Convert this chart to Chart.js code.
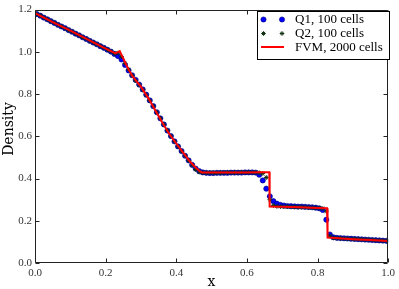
<!DOCTYPE html>
<html><head><meta charset="utf-8">
<script src="https://cdn.jsdelivr.net/npm/chart.js@4/dist/chart.umd.min.js"></script>
<style>html,body{margin:0;padding:0;background:#fff}#wrap{width:399px;height:289px;position:relative}</style>
</head><body><div id="wrap"><canvas id="c" width="399" height="289"></canvas></div>
<script>
// ---- data ----
const cellX = [0.005,0.015,0.025,0.035,0.045,0.055,0.065,0.075,0.085,0.095,
0.105,0.115,0.125,0.135,0.145,0.155,0.165,0.175,0.185,0.195,
0.205,0.215,0.225,0.235,0.245,0.255,0.265,0.275,0.285,0.295,
0.305,0.315,0.325,0.335,0.345,0.355,0.365,0.375,0.385,0.395,
0.405,0.415,0.425,0.435,0.445,0.455,0.465,0.475,0.485,0.495,
0.505,0.515,0.525,0.535,0.545,0.555,0.565,0.575,0.585,0.595,
0.605,0.615,0.625,0.635,0.645,0.655,0.665,0.675,0.685,0.695,
0.705,0.715,0.725,0.735,0.745,0.755,0.765,0.775,0.785,0.795,
0.805,0.815,0.825,0.835,0.845,0.855,0.865,0.875,0.885,0.895,
0.905,0.915,0.925,0.935,0.945,0.955,0.965,0.975,0.985,0.995];
const q1Density = [1.179,1.171,1.162,1.154,1.145,1.137,1.128,1.120,1.112,1.103,
1.095,1.086,1.078,1.069,1.061,1.052,1.044,1.036,1.027,1.019,
1.010,1.001,0.990,0.980,0.964,0.938,0.912,0.889,0.867,0.845,
0.822,0.797,0.770,0.743,0.714,0.685,0.656,0.627,0.601,0.576,
0.552,0.530,0.508,0.486,0.465,0.447,0.435,0.429,0.427,0.426,
0.426,0.427,0.427,0.427,0.427,0.428,0.428,0.428,0.428,0.429,
0.429,0.429,0.428,0.418,0.391,0.352,0.316,0.293,0.281,0.275,
0.272,0.270,0.269,0.268,0.267,0.267,0.266,0.265,0.264,0.262,
0.259,0.251,0.205,0.135,0.122,0.119,0.118,0.117,0.116,0.115,
0.114,0.113,0.112,0.111,0.110,0.109,0.108,0.107,0.106,0.105];
const q2Density = [1.179,1.171,1.162,1.154,1.145,1.137,1.128,1.120,1.112,1.103,
1.095,1.086,1.078,1.069,1.061,1.052,1.044,1.036,1.027,1.019,
1.010,1.002,0.992,0.994,0.978,0.945,0.916,0.888,0.864,0.843,
0.820,0.795,0.769,0.742,0.714,0.685,0.656,0.627,0.601,0.576,
0.552,0.530,0.508,0.486,0.463,0.443,0.431,0.428,0.427,0.427,
0.427,0.427,0.427,0.428,0.428,0.428,0.428,0.428,0.429,0.429,
0.429,0.429,0.429,0.427,0.424,0.405,0.300,0.272,0.268,0.267,
0.267,0.267,0.266,0.266,0.265,0.265,0.264,0.263,0.262,0.261,
0.260,0.258,0.245,0.128,0.119,0.118,0.117,0.116,0.115,0.114,
0.114,0.113,0.112,0.111,0.110,0.109,0.108,0.107,0.106,0.105];
const fvmX = [0.0,0.05,0.10,0.15,0.20,0.215,0.228,0.240,0.248,0.258,
0.267,0.276,0.290,0.300,0.323,0.341,0.360,0.380,0.400,0.420,
0.440,0.455,0.465,0.472,0.50,0.55,0.60,0.64,0.6635,0.6645,
0.700,0.750,0.800,0.827,0.8285,0.840,0.900,0.950,1.0];
const fvmDensity = [1.183,1.141,1.100,1.058,1.015,1.003,0.993,1.003,0.975,0.940,
0.911,0.885,0.855,0.835,0.775,0.722,0.667,0.612,0.566,0.522,
0.478,0.452,0.437,0.429,0.428,0.428,0.429,0.430,0.430,0.267,
0.266,0.264,0.261,0.259,0.120,0.119,0.113,0.109,0.104];
const xTickValues = [0.0,0.2,0.4,0.6,0.8,1.0];
const xTickLabels = ['0.0','0.2','0.4','0.6','0.8','1.0'];
const yTickValues = [0.0,0.2,0.4,0.6,0.8,1.0,1.2];
const yTickLabels = ['0.0','0.2','0.4','0.6','0.8','1.0','1.2'];
const seriesLabels = ['Q1, 100 cells','Q2, 100 cells','FVM, 2000 cells'];
const xTitle = 'x';
const yTitle = 'Density';

const pts = (xs, ys) => xs.map((x, i) => ({x: x, y: ys[i]}));
const SERIF = '"Liberation Serif", "DejaVu Serif", serif';

function labelFor(values, labels, v) {
  for (let i = 0; i < values.length; i++) if (Math.abs(values[i] - v) < 1e-6) return labels[i];
  return '';
}

const framePlugin = {
  id: 'frame',
  afterDatasetsDraw(chart) {
    const {ctx, chartArea: a, scales} = chart;
    ctx.save();
    ctx.strokeStyle = '#222';
    ctx.lineWidth = 1;
    ctx.beginPath();
    const L = Math.round(a.left) + 0.5, R = Math.round(a.right) - 0.5;
    const T = Math.round(a.top) + 0.5, B = Math.round(a.bottom) - 0.5;
    ctx.rect(L, T, R - L, B - T);
    ctx.stroke();
    ctx.beginPath();
    const tl = 4;
    xTickValues.forEach(v => {
      const px = Math.round(scales.x.getPixelForValue(v)) + 0.5;
      ctx.moveTo(px, B); ctx.lineTo(px, B - tl);
      ctx.moveTo(px, T); ctx.lineTo(px, T + tl);
    });
    yTickValues.forEach(v => {
      const py = Math.round(scales.y.getPixelForValue(v)) + 0.5;
      ctx.moveTo(L, py); ctx.lineTo(L + tl, py);
      ctx.moveTo(R, py); ctx.lineTo(R - tl, py);
    });
    ctx.stroke();
    ctx.restore();
  },
  afterDraw(chart) {
    const {ctx, chartArea: a, data} = chart;
    ctx.save();
    // axis titles
    ctx.fillStyle = '#000';
    ctx.font = '14px "DejaVu Serif", serif';
    ctx.textAlign = 'center';
    ctx.textBaseline = 'alphabetic';
    ctx.fillText(xTitle, (a.left + a.right) / 2, 286);
    ctx.translate(13, 129);
    ctx.rotate(-Math.PI / 2);
    ctx.textBaseline = 'alphabetic';
    ctx.fillText(yTitle, 0, 0);
    ctx.restore();

    // legend
    ctx.save();
    const bx = 257.5, by = 11.5, bw = 132, bh = 48;
    ctx.fillStyle = '#fff';
    ctx.fillRect(bx, by, bw, bh);
    ctx.strokeStyle = '#000';
    ctx.lineWidth = 1;
    ctx.strokeRect(bx, by, bw, bh);
    const rows = [19.5, 33.5, 47];
    const m1 = 263.5, m2 = 282;
    // Q1 markers
    const d0 = data.datasets[2];
    [m1, m2].forEach(mx => {
      ctx.beginPath();
      ctx.arc(mx, rows[0], d0.pointRadius, 0, Math.PI * 2);
      ctx.fillStyle = d0.backgroundColor;
      ctx.fill();
      ctx.lineWidth = d0.borderWidth;
      ctx.strokeStyle = d0.borderColor;
      ctx.stroke();
    });
    // Q2 markers (star)
    const d1 = data.datasets[1];
    [m1, m2].forEach(mx => {
      ctx.beginPath();
      const r = d1.pointRadius;
      for (let k = 0; k < 4; k++) {
        const ang = k * Math.PI / 4;
        ctx.moveTo(mx - r * Math.cos(ang), rows[1] - r * Math.sin(ang));
        ctx.lineTo(mx + r * Math.cos(ang), rows[1] + r * Math.sin(ang));
      }
      ctx.lineWidth = d1.borderWidth;
      ctx.strokeStyle = d1.borderColor;
      ctx.stroke();
    });
    // FVM line
    const d2 = data.datasets[0];
    ctx.beginPath();
    ctx.moveTo(261, rows[2]); ctx.lineTo(284, rows[2]);
    ctx.strokeStyle = d2.borderColor;
    ctx.lineWidth = 2;
    ctx.stroke();
    ctx.fillStyle = '#000';
    ctx.font = '13px ' + SERIF;
    ctx.textAlign = 'left';
    ctx.textBaseline = 'middle';
    ctx.fillText(seriesLabels[0], 295, rows[0] + 0.5);
    ctx.fillText(seriesLabels[1], 295, rows[1] + 0.5);
    ctx.fillText(seriesLabels[2], 295, rows[2] + 0.5);
    ctx.restore();
  }
};

new Chart(document.getElementById('c'), {
  type: 'scatter',
  data: {
    datasets: [
      {
        label: seriesLabels[2], data: pts(fvmX, fvmDensity), showLine: true,
        borderColor: '#ff0000', backgroundColor: '#ff0000', borderWidth: 2,
        pointRadius: 0, tension: 0, order: 0
      },
      {
        label: seriesLabels[1], data: pts(cellX, q2Density), showLine: false,
        pointStyle: 'star', pointRadius: 2.3, borderColor: '#123212', backgroundColor: '#123212',
        borderWidth: 1, order: 1
      },
      {
        label: seriesLabels[0], data: pts(cellX, q1Density), showLine: false,
        pointStyle: 'circle', pointRadius: 2.6, backgroundColor: '#0000ff', borderColor: '#00007a',
        borderWidth: 0.6, order: 2
      }
    ]
  },
  options: {
    responsive: false, animation: false, devicePixelRatio: 1,
    layout: {padding: {left: 0, right: 7, top: 5, bottom: 0}},
    plugins: {legend: {display: false}, tooltip: {enabled: false}},
    scales: {
      x: {
        type: 'linear', min: 0, max: 1,
        afterBuildTicks: s => { s.ticks = xTickValues.map(v => ({value: v})); },
        afterFit: s => { s.height = 26; },
        grid: {display: false, drawTicks: false},
        border: {display: false},
        ticks: {padding: 4, color: '#333', font: {family: SERIF, size: 11},
          maxRotation: 0, autoSkip: false,
          callback: v => labelFor(xTickValues, xTickLabels, v)}
      },
      y: {
        type: 'linear', min: 0, max: 1.2,
        afterBuildTicks: s => { s.ticks = yTickValues.map(v => ({value: v})); },
        afterFit: s => { s.width = 35; },
        grid: {display: false, drawTicks: false},
        border: {display: false},
        ticks: {padding: 3, color: '#333', font: {family: SERIF, size: 11},
          autoSkip: false,
          callback: v => labelFor(yTickValues, yTickLabels, v)}
      }
    }
  },
  plugins: [framePlugin]
});
</script></body></html>
